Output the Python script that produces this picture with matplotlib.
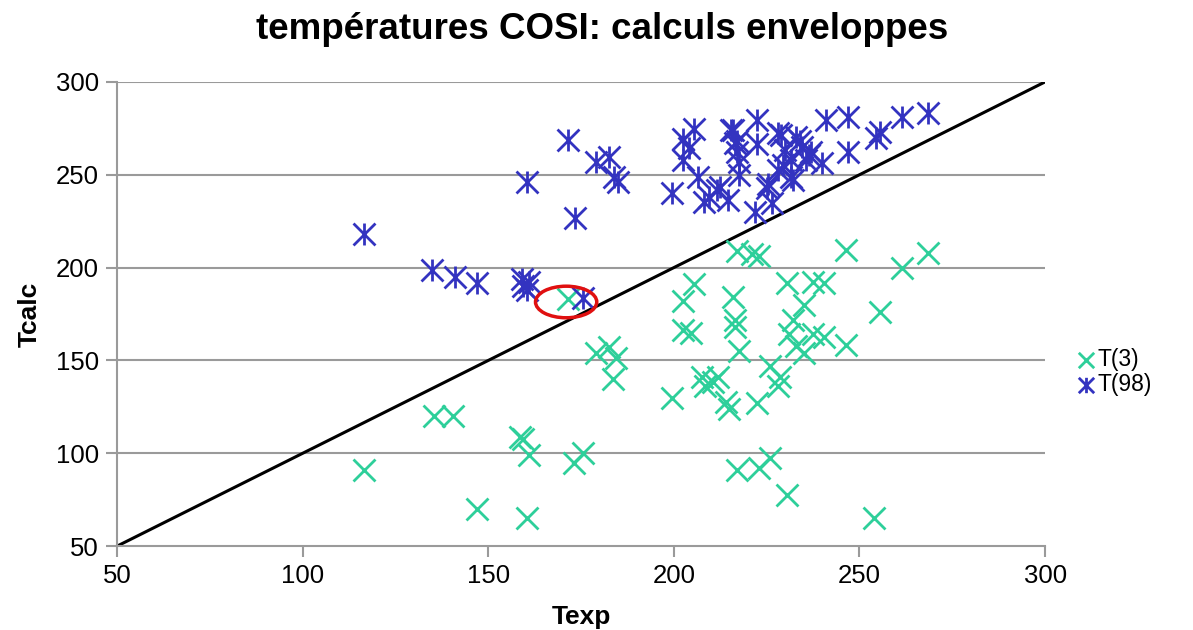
import matplotlib
matplotlib.use("Agg")
import matplotlib.pyplot as plt
from matplotlib.path import Path
from matplotlib.patches import Ellipse

plt.rcParams['font.family'] = ['Liberation Sans', 'DejaVu Sans']

# T(3) series
t3_x = [116.5, 135.5, 140.5, 147, 158.5, 159.5, 161, 160.5, 173, 175.5,
        171.5, 179, 182.5, 184.5, 183.5, 199.5, 202.5, 205.5, 202.5, 204.5,
        216, 216.5, 216.5, 217.5, 217, 221, 223, 207.5, 208.5, 210.5,
        212, 214, 215, 222.5, 217, 223, 226, 230.5, 230.5, 237.5,
        240.5, 235, 232, 231, 237.5, 240.5, 246.5, 235, 233, 226,
        228.5, 228, 246.5, 268.5, 261.5, 255.5, 254]
t3_y = [91, 120, 120, 70, 109, 107.5, 99, 65, 95, 100,
        183, 154, 157, 151.5, 140, 130, 182, 191, 166.5, 165,
        184, 172, 168, 155, 209, 207.5, 206.5, 141, 136, 138.5,
        141, 127.5, 124, 127, 91, 92, 97.5, 77.5, 191.5, 192,
        191.5, 180, 172, 164, 164, 162.5, 158.5, 154, 158, 147,
        141, 136, 209.5, 208, 200, 176, 65]

# T(98) series
t98_x = [116.5, 135, 141, 147, 159, 159.5, 160.5, 161, 175.5, 171.5,
         160.5, 173.5, 179, 182.5, 184, 185, 199.5, 202.5, 205.5, 202.5,
         204, 206.5, 208, 209.5, 211.5, 212.5, 214.5, 216, 216.5, 217,
         217.5, 217.5, 222.5, 222.5, 222, 225.5, 226.5, 225, 228, 230,
         229.5, 231.5, 233, 234.5, 235.5, 236.5, 240, 241, 247, 247,
         261.5, 268.5, 255.5, 254.5, 237, 234, 229, 231.5, 228, 232,
         215.5, 217]
t98_y = [218, 198.5, 195, 191.5, 194, 190, 188, 192.5, 183.5, 268.5,
         246, 226.5, 257, 259.5, 249, 246, 240, 269, 274.5, 258,
         264.5, 249, 235.5, 238, 242, 243.5, 236.5, 274, 267, 262,
         257, 250, 279.5, 266.5, 230, 245, 235, 243, 272.5, 263.5,
         255.5, 249, 270.5, 265, 258, 260.5, 256.5, 279.5, 281, 262,
         281, 283, 273, 270, 262, 268, 271.5, 258, 252.5, 247,
         274, 268]

diag = [50, 300]
y_ticks = [50, 100, 150, 200, 250, 300]
x_ticks = [50, 100, 150, 200, 250, 300]

# Excel-style star: X with a vertical bar
star = Path([(-1, -1), (1, 1), (-1, 1), (1, -1), (0, -1), (0, 1)],
            [Path.MOVETO, Path.LINETO, Path.MOVETO, Path.LINETO,
             Path.MOVETO, Path.LINETO])

fig = plt.figure(figsize=(11.93, 6.3), dpi=100)
ax = fig.add_axes([0.098, 0.133, 0.778, 0.737])

for yv in y_ticks[1:]:
    ax.axhline(yv, color='#9a9a9a', lw=1.5, zorder=0)

ax.plot(diag, diag, color='black', lw=2.2, zorder=2)
ax.scatter(t3_x, t3_y, marker='x', s=250, color='#2ecf9a', linewidths=2.0,
           label='T(3)', zorder=3)
ax.scatter(t98_x, t98_y, marker=star, s=250, color='#3333c0', linewidths=2.0,
           label='T(98)', zorder=4)

ax.add_patch(Ellipse((171, 181.5), 16.5, 17, fill=False, edgecolor='#e01010',
                     lw=2.5, zorder=5))

ax.set_xlim(50, 300)
ax.set_ylim(50, 300)
ax.set_xticks(x_ticks)
ax.set_yticks(y_ticks)
ax.tick_params(axis='both', labelsize=18.5, color='#9a9a9a', length=8, width=1.5,
               direction='out', pad=5)
for side in ['top', 'right']:
    ax.spines[side].set_visible(False)
for side in ['left', 'bottom']:
    ax.spines[side].set_color('#9a9a9a')
    ax.spines[side].set_linewidth(1.5)

ax.set_xlabel('Texp', fontsize=19, fontweight='bold', labelpad=12)
ax.set_ylabel('Tcalc', fontsize=19, fontweight='bold', labelpad=10)
fig.text(0.505, 0.953, 'températures COSI: calculs enveloppes', fontsize=26.5,
         fontweight='bold', ha='center', va='center')

ax.legend(loc='center left', bbox_to_anchor=(1.01, 0.375), frameon=False,
          fontsize=16.5, handletextpad=0.0, markerscale=0.7, labelspacing=0.1,
          handlelength=1.0)

fig.savefig('out.png', dpi=100)
